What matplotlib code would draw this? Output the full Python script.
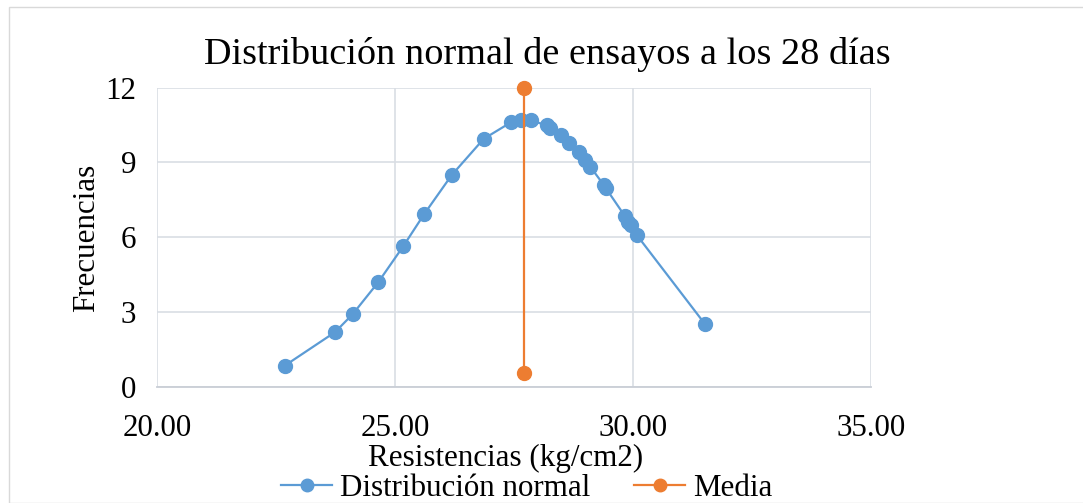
import matplotlib
matplotlib.use("Agg")
import matplotlib.pyplot as plt
from matplotlib.lines import Line2D
from matplotlib.patches import Rectangle

# ---- data ----
resistencias = [22.68, 23.74, 24.11, 24.65, 25.17, 25.61, 26.19, 26.86, 27.43, 27.64,
                27.85, 28.19, 28.26, 28.49, 28.65, 28.86, 28.99, 29.10, 29.39, 29.43,
                29.83, 29.90, 29.96, 30.08, 31.50]
frecuencias = [0.84, 2.19, 2.91, 4.20, 5.63, 6.92, 8.49, 9.94, 10.60, 10.68,
               10.68, 10.48, 10.36, 10.08, 9.78, 9.42, 9.09, 8.82, 8.07, 7.95,
               6.83, 6.61, 6.47, 6.07, 2.53]
media_x = [27.71, 27.71]
media_y = [12.0, 0.56]
x_ticks = [20, 25, 30, 35]
x_tick_labels = ["20.00", "25.00", "30.00", "35.00"]
y_ticks = [0, 3, 6, 9, 12]

W, H = 1083, 503
BLUE = "#5B9BD5"
ORANGE = "#ED7D31"
GRID = "#D9DEE4"
FONT = "Liberation Serif"
FS = 22.3

plt.rcParams["font.family"] = [FONT, "DejaVu Serif"]

fig = plt.figure(figsize=(W / 100, H / 100), dpi=100)
fig.patch.set_facecolor("white")

# chart border
fig.patches.append(Rectangle((9 / W, 0), 2, 1 - 7 / H, transform=fig.transFigure,
                             fill=False, edgecolor="#D9D9D9", linewidth=1.0))

l, r, b, t = 157 / W, 871.3 / W, 1 - 386.7 / H, 1 - 87.5 / H
ax = fig.add_axes([l, b, r - l, t - b])

ax.plot(resistencias, frecuencias, color=BLUE, lw=1.6, marker="o", ms=10,
        markerfacecolor=BLUE, markeredgecolor=BLUE, clip_on=False, zorder=3)
ax.plot(media_x, media_y, color=ORANGE, lw=1.6, marker="o", ms=10,
        markerfacecolor=ORANGE, markeredgecolor=ORANGE, clip_on=False, zorder=4)

ax.set_xlim(20, 35)
ax.set_ylim(0, 12)
ax.set_xticks(x_ticks)
ax.set_xticklabels(x_tick_labels)
ax.set_yticks(y_ticks)
ax.grid(True, color=GRID, lw=1.2)
ax.set_axisbelow(True)
for s in ["top", "right", "left"]:
    ax.spines[s].set_visible(False)
ax.spines["bottom"].set_color("#C9CED6")
ax.spines["bottom"].set_linewidth(1.3)
ax.tick_params(axis="x", length=0, pad=20, labelsize=FS)
ax.tick_params(axis="y", length=0, pad=15, labelsize=FS)

fig.text(547.5 / W, 1 - 64.3 / H, "Distribución normal de ensayos a los 28 días",
         ha="center", va="baseline", fontsize=27.5)
fig.text(506 / W, 1 - 465.7 / H, "Resistencias (kg/cm2)",
         ha="center", va="baseline", fontsize=FS)
fig.text(86.7 / W, 1 - 238 / H, "Frecuencias", rotation=90,
         ha="center", va="center", fontsize=FS)

handles = [Line2D([], [], color=BLUE, lw=1.6, marker="o", ms=9),
           Line2D([], [], color=ORANGE, lw=1.6, marker="o", ms=9)]
fig.legend(handles, ["Distribución normal", "Media"], loc="center",
           bbox_to_anchor=(527 / W, 1 - 488 / H), ncol=2, frameon=False,
           fontsize=FS, handlelength=1.63, handletextpad=0.27,
           columnspacing=1.42, borderpad=0, borderaxespad=0)

fig.savefig("out.png", dpi=100, facecolor="white")
